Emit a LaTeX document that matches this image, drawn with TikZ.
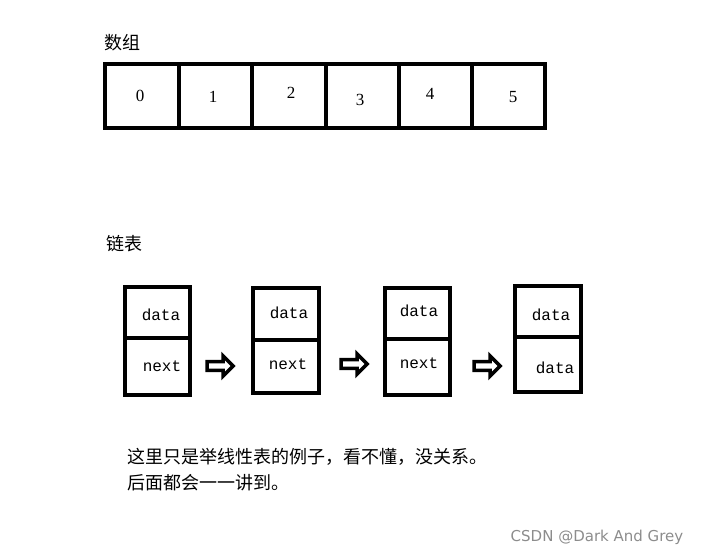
\documentclass[tikz,border=0pt]{standalone}
\usepackage{fontspec}
\setmainfont{Liberation Serif}
\newfontfamily\cjk{Noto Sans CJK SC}
\newfontfamily\wmfont{DejaVu Sans}
\newfontfamily\monofont{Liberation Mono}
\usetikzlibrary{positioning,shapes.arrows}

\begin{document}
\begin{tikzpicture}[
    x=1pt, y=-1pt,
    cell/.style={draw, line width=3.6pt, inner sep=0},
    lbl/.style={font=\fontsize{17}{19}\selectfont},
    fld/.style={font=\monofont\fontsize{16}{18}\selectfont},
    nxt/.style={single arrow, draw, line width=3.6pt, fill=white, minimum height=26pt,
        minimum width=20pt, single arrow head extend=3pt, inner sep=0.5pt},
    captext/.style={font=\cjk\fontsize{18}{21}\selectfont, anchor=west}]
\useasboundingbox (0,0) rectangle (705,557);

% array
\node[captext] (arrtitle) at (101,43) {数组};
\foreach \xa/\xb/\v/\lx/\ly [count=\i] in {105/179/0/140/96, 179/252/1/213/97, 252/326/2/291/93,
        326/399/3/360/100, 399/472/4/430/94, 472/545/5/513/97} {
    \draw[cell] (\xa,64) rectangle (\xb,128);
    \node[lbl] (arr\i) at (\lx,\ly) {\v};
}

% linked list
\node[captext] (listtitle) at (103,244) {链表};
\foreach \xa/\xb/\ya/\ym/\yb/\dx/\dy/\nx/\ny/\nt [count=\i] in {
        125/190/287/338/395/161/315/162/366/next,
        253/319/288/340/393/289/313/288/364/next,
        385/450/288/339/395/419/311/419/363/next,
        515/581/286/337/392/551/315/555/368/data} {
    \draw[cell] (\xa,\ya) rectangle (\xb,\yb);
    \draw[line width=3.6pt] (\xa,\ym) -- (\xb,\ym);
    \node[fld] (data\i) at (\dx,\dy) {data};
    \node[fld] (next\i) at (\nx,\ny) {\nt};
}
\node[nxt] (ptr1) at (218,366) {};
\node[nxt] (ptr2) at (352,364) {};
\node[nxt] (ptr3) at (485,366) {};

% notes
\node[captext] (note1) at (124,457) {这里只是举线性表的例子，看不懂，没关系。};
\node[captext] (note2) at (124,483) {后面都会一一讲到。};
\node[font=\wmfont\fontsize{15}{17}\selectfont, text=black!45] (mark) at (597,537) {CSDN @Dark And Grey};
\end{tikzpicture}
\end{document}
